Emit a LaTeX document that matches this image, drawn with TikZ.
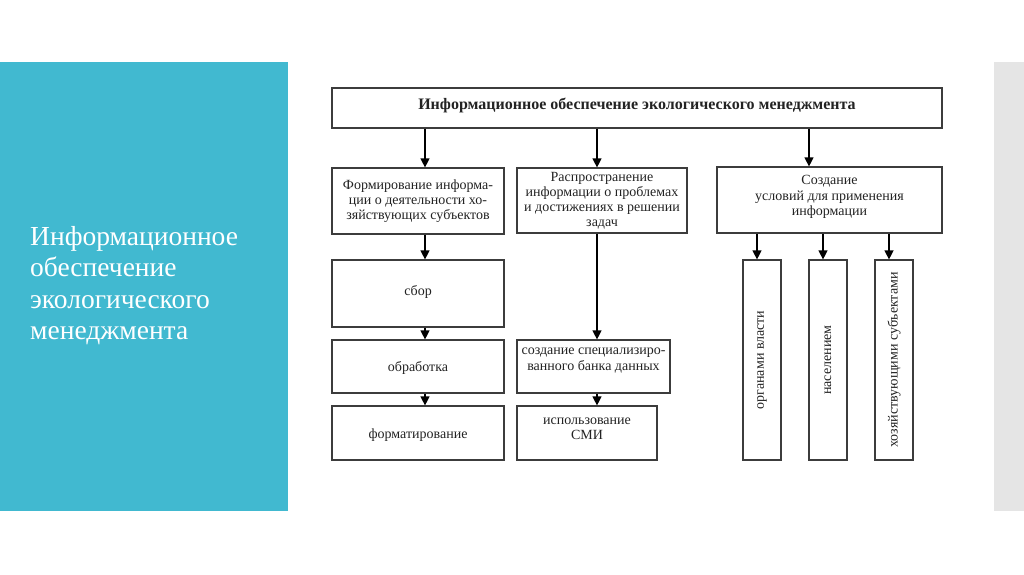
\documentclass[tikz,border=0pt]{standalone}
\usepackage{fontspec}
\setmainfont{Liberation Serif}
\usetikzlibrary{arrows.meta}
\definecolor{teal}{RGB}{65,185,208}
\definecolor{strip}{RGB}{229,229,229}
\definecolor{ln}{RGB}{60,60,60}
\definecolor{tx}{RGB}{35,35,35}
\tikzset{
  box/.style={draw=ln, line width=1.2pt, fill=white, inner sep=0pt, text=tx,
    font=\fontsize{14}{15}\selectfont, align=center},
  lbl/.style={text=tx, font=\fontsize{14}{15.5}\selectfont, align=center, inner sep=0pt},
  arr/.style={draw=black, line width=1.2pt, -{Triangle[length=9pt,width=9pt]}},
}
\begin{document}
\begin{tikzpicture}[x=1pt,y=-1pt]
\useasboundingbox (0,0) rectangle (1024,574);
\fill[white] (0,0) rectangle (1024,574);
% side panels
\fill[teal] (0,62) rectangle (288,511);
\fill[strip] (994,62) rectangle (1024,511);
\node[anchor=north west, text=white, align=left, inner sep=0pt,
  font=\fontsize{27.5}{31.5}\selectfont] (side) at (30,226)
  {Информационное\\обеспечение\\экологического\\менеджмента};
% column coordinates for arrows
\coordinate (cL) at (425,0);
\coordinate (cM) at (597,0);
\coordinate (cR) at (809,0);
\coordinate (c1) at (757,0);
\coordinate (c2) at (823,0);
\coordinate (c3) at (889,0);
% boxes
\node[box, minimum width=610pt, minimum height=40pt,
  label={[lbl,yshift=3pt]center:{\fontsize{16}{18}\selectfont\bfseries Информационное обеспечение экологического менеджмента}}]
  (top) at (637,108) {};
\node[box, minimum width=172pt, minimum height=66pt] (L1) at (418,201)
  {Формирование информа-\\ции о деятельности хо-\\зяйствующих субъектов};
\node[box, minimum width=170pt, minimum height=65pt] (M1) at (602,200.5)
  {Распространение\\информации о проблемах\\и достижениях в решении\\задач};
\node[box, minimum width=225pt, minimum height=66pt,
  label={[lbl,yshift=3pt]center:{Создание\\условий для применения\\информации}}]
  (R1) at (829.5,200) {};
\node[box, minimum width=172pt, minimum height=67pt,
  label={[lbl,yshift=2pt]center:сбор}] (sbor) at (418,293.5) {};
\node[box, minimum width=172pt, minimum height=53pt,
  label={[lbl,yshift=-1pt]center:обработка}] (obr) at (418,366.5) {};
\node[box, minimum width=172pt, minimum height=54pt,
  label={[lbl,yshift=-2pt]center:форматирование}] (fmt) at (418,433) {};
\node[box, minimum width=153pt, minimum height=53pt,
  label={[lbl,yshift=6pt]center:{создание специализиро-\\ванного банка данных}}]
  (sozd) at (593.5,366.5) {};
\node[box, minimum width=140pt, minimum height=54pt,
  label={[lbl,yshift=4pt]center:{использование\\СМИ}}]
  (smi) at (587,433) {};
\node[box, minimum width=38pt, minimum height=200pt,
  label={[lbl,rotate=90]center:органами власти}] (v1) at (762,360) {};
\node[box, minimum width=38pt, minimum height=200pt,
  label={[lbl,rotate=90]center:населением}] (v2) at (828,360) {};
\node[box, minimum width=38pt, minimum height=200pt,
  label={[lbl,rotate=90]center:хозяйствующими субъектами}] (v3) at (894,360) {};
% arrows
\draw[arr] (top.south -| cL) -- (L1.north -| cL);
\draw[arr] (top.south -| cM) -- (M1.north -| cM);
\draw[arr] (top.south -| cR) -- (R1.north -| cR);
\draw[arr] (L1.south -| cL) -- (sbor.north -| cL);
\draw[arr] (sbor.south -| cL) -- (obr.north -| cL);
\draw[arr] (obr.south -| cL) -- (fmt.north -| cL);
\draw[arr] (M1.south -| cM) -- (sozd.north -| cM);
\draw[arr] (sozd.south -| cM) -- (smi.north -| cM);
\draw[arr] (R1.south -| c1) -- (v1.north -| c1);
\draw[arr] (R1.south -| c2) -- (v2.north -| c2);
\draw[arr] (R1.south -| c3) -- (v3.north -| c3);
\end{tikzpicture}
\end{document}
